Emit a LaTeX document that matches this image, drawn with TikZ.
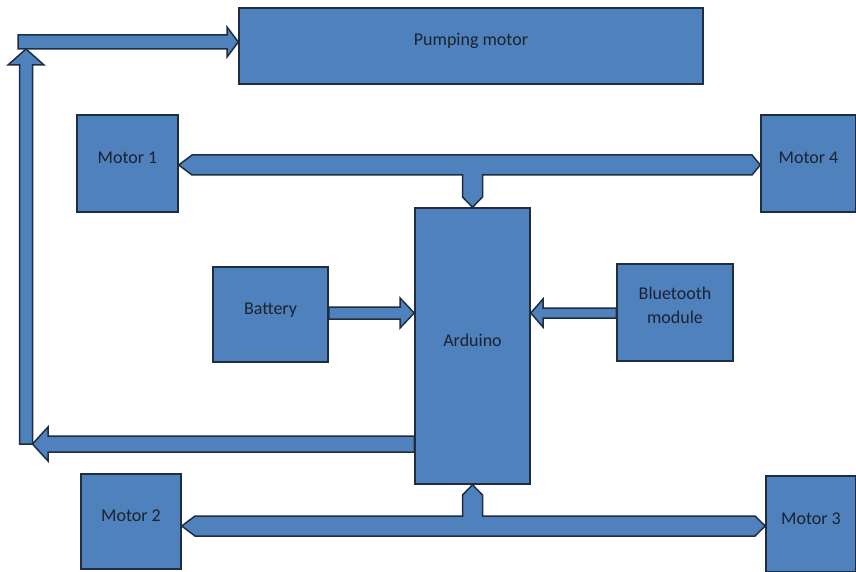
\documentclass[tikz,border=0pt]{standalone}
\usepackage{fontspec}
\setmainfont{Carlito}
\usetikzlibrary{calc}
\definecolor{boxblue}{HTML}{4F81BD}
\definecolor{edge}{HTML}{1F2D40}
\definecolor{txt}{HTML}{1B2230}
\begin{document}
\begin{tikzpicture}[x=1pt,y=-1pt,
  box/.style={draw=edge, fill=boxblue, line width=1.5pt, inner sep=0pt, text=txt,
    font=\fontsize{18}{24}\selectfont, text height=12pt, text depth=12pt},
  barrow/.style={draw=edge, fill=boxblue, line width=1.5pt, line join=miter}]
\useasboundingbox (0,0) rectangle (856,572);

% boxes
\node[box, minimum width=464pt, minimum height=76pt] (pump) at (471,46) {Pumping motor};
\node[box, minimum width=101pt, minimum height=97pt] (m1) at (127.5,163.5) {Motor 1};
\node[box, minimum width=95pt, minimum height=97pt] (m4) at (808.5,163.5) {Motor 4};
\node[box, minimum width=115pt, minimum height=276pt] (ard) at (472.5,346) {Arduino};
\node[box, minimum width=115pt, minimum height=95pt] (bat) at (270.5,314.5) {Battery};
\node[box, minimum width=116pt, minimum height=97pt, align=center, text height=, text depth=14pt] (bt) at (675,312.5) {Bluetooth\\module};
\node[box, minimum width=100pt, minimum height=95pt] (m2) at (131,521.5) {Motor 2};
\node[box, minimum width=90pt, minimum height=96pt] (m3) at (811,524) {Motor 3};

% loop path points
\coordinate (shaftbot) at (26,444);
\coordinate (shafttop) at (26,49);

% top bus: Arduino -> Motor 1 / Motor 4
\draw[barrow] (m1.east |- 0,165) -- (192,155) -- (752,155) -- (m4.west |- 0,165)
  -- (752,175) -- (482.5,175) -- (482.5,197) -- (ard.north) -- (462.5,197)
  -- (462.5,175) -- (192,175) -- cycle;

% bottom bus: Arduino -> Motor 2 / Motor 3
\draw[barrow] (m2.east |- 0,526) -- (195,516) -- (462.5,516) -- (462.5,495)
  -- (ard.south) -- (482.5,495) -- (482.5,516) -- (755,516) -- (m3.west |- 0,526)
  -- (755,536) -- (195,536) -- cycle;

% Battery -> Arduino
\draw[barrow] (bat.east |- 0,307) -- (400,307) -- (400,298) -- (ard.west |- 0,313)
  -- (400,328) -- (400,319) -- (bat.east |- 0,319) -- cycle;

% Bluetooth -> Arduino
\draw[barrow] (bt.west |- 0,308) -- (543,308) -- (543,299) -- (ard.east |- 0,313)
  -- (543,327) -- (543,318) -- (bt.west |- 0,318) -- cycle;

% Arduino -> left
\draw[barrow] (ard.west |- 0,436) -- (48,436) -- (48,427) -- ($(shaftbot)+(6.5,0)$)
  -- (48,461) -- (48,452) -- (ard.west |- 0,452) -- cycle;

% left -> top corner
\draw[barrow] (18,35) -- (227,35) -- (227,27) -- (pump.west |- 0,42) -- (227,57)
  -- (227,49) -- (18,49) -- cycle;

% upward arrow
\draw[barrow] ($(shaftbot)+(-6.5,0)$) -- (19.5,65) -- (8,65) -- (shafttop) -- (44,65)
  -- (32.5,65) -- ($(shaftbot)+(6.5,0)$) -- cycle;
\end{tikzpicture}
\end{document}
